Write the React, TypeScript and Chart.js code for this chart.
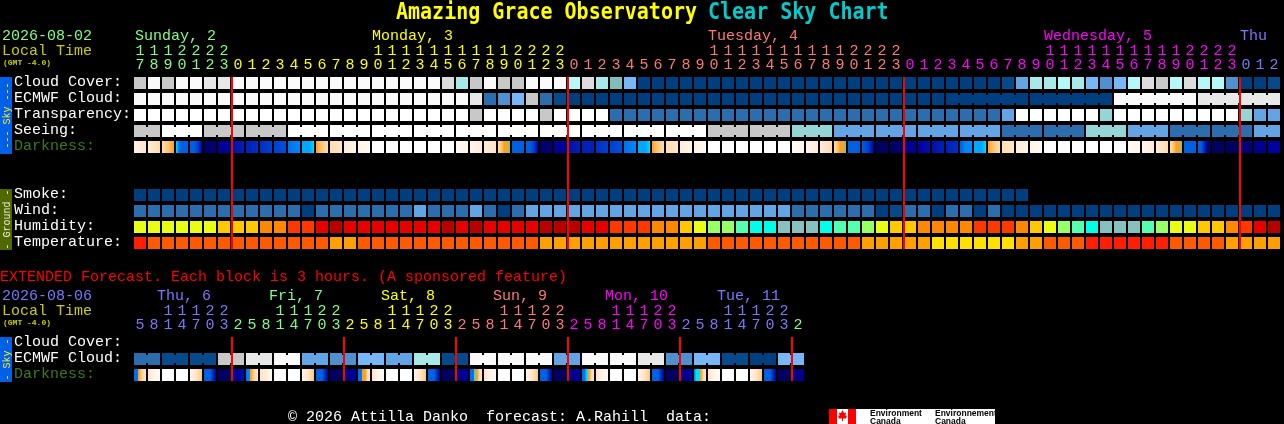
import React, { useEffect, useRef } from "react";
import { Chart, registerables } from "chart.js";

Chart.register(...registerables);

// ---------- values ----------
// Cloud-like rows: each number is a level of cloudColors below.
const cloudCover = [10,13,10,13,13,12,12,13,13,13,13,13,13,13,13,13,13,13,13,13,13,13,11,7,10,13,10,10,13,13,13,6,11,7,9,5,0,0,0,0,0,0,0,0,0,0,0,0,0,0,0,0,0,0,0,0,0,0,0,0,0,0,1,4,7,7,6,7,5,3,5,6,11,10,6,11,6,6,3,0,0,1];
const ecmwfCloud = [13,13,13,13,13,13,13,13,13,13,13,13,13,13,13,13,13,13,13,13,13,13,13,13,12,2,3,5,10,2,1,0,0,0,0,0,0,0,0,0,0,0,0,0,0,0,0,0,0,0,0,0,0,0,0,0,0,0,0,0,0,0,0,0,0,0,0,0,0,0,13,13,13,13,13,13,12,12,12,12,12,12];
const transparency = [14,14,14,14,14,14,14,14,14,14,14,14,14,14,14,14,14,14,14,14,14,14,14,14,10,14,14,14,14,10,14,14,14,14,2,2,2,2,2,2,2,2,2,2,2,2,2,2,2,2,2,2,2,2,2,2,2,2,2,2,2,2,4,14,14,14,14,14,14,8,14,14,14,14,14,14,14,14,14,8,4,4];
const seeing = [10,10,14,14,14,10,10,10,10,10,10,14,14,14,14,14,14,14,14,14,14,14,14,14,14,14,14,14,14,14,14,14,14,14,14,14,14,14,14,14,14,10,10,10,10,10,10,8,8,8,4,4,4,4,4,4,4,4,4,4,4,4,2,2,2,2,2,2,8,8,8,4,4,4,2,2,2,2,2,2,4,4];
const smoke = [0,0,0,0,0,0,0,0,0,0,0,0,0,0,0,0,0,0,0,0,0,0,0,0,0,0,0,0,0,0,0,0,0,0,0,0,0,0,0,0,0,0,0,0,0,0,0,0,0,0,0,0,0,0,0,0,0,0,0,0,0,0,0,0];
const wind = [2,2,2,2,2,2,2,2,2,2,2,2,0,2,2,2,2,2,2,2,4,2,2,2,4,2,0,2,4,4,4,4,4,4,4,4,4,4,4,4,4,4,4,4,4,4,4,2,2,2,2,2,2,0,1,2,2,0,2,2,0,2,0,0,0,0,0,0,0,0,0,0,0,0,0,0,0,0,0,0,0,0];
const humidity = [5,5,5,5,5,5,4,4,4,3,3,2,2,1,0,1,1,1,1,1,1,1,0,1,0,1,1,1,1,0,0,0,1,1,2,2,2,3,3,4,5,6,6,7,8,8,9,9,9,8,7,7,6,5,4,4,3,3,3,3,2,2,2,3,4,5,6,7,8,9,9,9,7,6,5,5,4,4,3,2,1,0];
const temperature = [0,1,1,1,1,1,1,1,1,1,1,1,1,1,2,2,1,1,1,1,1,1,1,1,1,1,1,1,1,2,2,2,2,2,2,2,2,2,2,2,2,1,1,1,1,1,1,1,1,1,1,1,2,2,2,2,2,3,3,3,3,3,3,2,2,1,1,1,0,0,0,0,0,0,1,1,1,1,2,2,2,2];
// Darkness: levels sampled left to right across each block.
const darkness = [[2,4],[3,5],[5,6,7],[9,12,13,13,13],[13,13,15,19],[22,21],[20,19],[18,17],[17,16],[16,15],[15,14],[12,11],[10,10,10,9],[7,6,5],[5,4],[3,2],[2,1],[0],[0],[0],[0],[0],[0],[1,2],[2,3],[3,4],[5,6,7,7,8],[13,13],[13,13,15,19],[22,21],[20,19],[18,17],[17],[16,15],[15,14],[12,11],[10,10,10,9],[7,6,5],[5,4],[3,2],[2,1],[0],[0],[0],[0],[0],[0],[1,2],[2,3],[3,5],[5,6,7,7,8],[13,13],[13,15,19],[22],[22,21],[20],[19,18],[18,17],[17,16],[13,11,11],[10,10,10,9],[7,6,5],[5,4],[3,2],[2,1],[0],[0],[0],[0],[0],[0],[1,2],[2,3],[3,5],[5,6,7,7,8],[13,13],[13,13,16,20,21],[22],[22],[21],[20],[19,19]];
const extEcmwf = [2,2,1,1,1,1,10,10,12,12,13,13,4,4,3,3,5,5,4,4,7,7,1,1,13,13,13,13,13,13,4,4,13,13,13,13,12,12,3,3,5,5,1,1,0,0,5,5];
const extDarkness = [[12,12,7,6,5,4],[4,2,1],[0],[0],[2,3,5,6],[13,13,13,16,20],[22,22],[20,19,18],[12,11,7,6,5,4],[4,3,1],[0],[0],[2,3,5,6],[13,13,13,16,20],[22],[21,20,19],[12,12,7,7,5,4],[4,2,1],[0],[0],[2,3,5,6],[13,13,13,16,20],[22],[21,20,19],[12,12,8,7,5,4],[4,2,1],[0],[0],[2,3,5,6],[13,13,13,16,20],[22],[21,20,19],[12,12,9,7,5,4],[4,2,1],[0],[0],[2,3,5,6],[13,13,13,16,20],[22],[21,20,19],[12,9,9,7,5,4],[4,2,1],[0],[0],[2,3,5,6],[13,13,13,16,20],[22],[21,20,20]];
// Counts of consecutive blocks that are joined together.
const seeingGroups = [2,3,3,3,3,3,3,3,3,3,3,3,3,3,3,3,3,3,3,3,3,3,3,3,3,3,3,2];
const ecmwfGroups = [1,1,1,1,1,1,1,1,1,1,1,1,1,1,1,1,1,1,1,1,1,1,1,1,1,1,1,1,1,1,1,1,1,1,1,1,1,1,1,1,1,1,1,1,1,1,1,1,1,1,1,1,1,1,1,1,1,1,6,6,6,6];
const extGroups = [2,2,2,2,2,2,2,2,2,2,2,2,2,2,2,2,2,2,2,2,2,2,2,2];
// Midnight / extended day boundaries (block index).
const mainMidnights = [7,31,55,79];
const extMidnights = [7,15,23,31,39,47];
// Tick labels
const mainHours = [17,18,19,20,21,22,23,0,1,2,3,4,5,6,7,8,9,10,11,12,13,14,15,16,17,18,19,20,21,22,23,0,1,2,3,4,5,6,7,8,9,10,11,12,13,14,15,16,17,18,19,20,21,22,23,0,1,2,3,4,5,6,7,8,9,10,11,12,13,14,15,16,17,18,19,20,21,22,23,0,1,2];
const extHours = [5,8,11,14,17,20,23,2,5,8,11,14,17,20,23,2,5,8,11,14,17,20,23,2,5,8,11,14,17,20,23,2,5,8,11,14,17,20,23,2,5,8,11,14,17,20,23,2];
const mainDayLabels = ["Sunday, 2","Monday, 3","Tuesday, 4","Wednesday, 5","Thu"];
const mainDayCells = [0.07,17,41,65,79];
const extDayLabels = ["Thu, 6","Fri, 7","Sat, 8","Sun, 9","Mon, 10","Tue, 11"];
const extDayCells = [1.64,9.64,17.64,25.64,33.64,41.64];

// ---------- palettes and layout ----------
const cloudColors = ["#003f7f","#074a8b","#2b6dad","#4f90d0","#62a4e4","#77b7f7","#b4f8f8","#a8e8e8","#95d5d5","#80bcbc","#c8c8c8","#dcdcdc","#e8e8e8","#fafafa","#ffffff"];
const humidityColors = ["#b80000","#e60000","#ff3800","#ff8800","#ffc800","#e8ff14","#99ff66","#55ffb0","#00ffe8","#88c0c0"];
const temperatureColors = ["#ff1e00","#ff5a00","#ffa000","#ffe000"];
const darkColors = ["#ffffff","#fffaf4","#fff4e8","#ffecd8","#ffe4c8","#ffdcb0","#ffc878","#ffa020","#60d0a0","#00e0ff","#00a8ff","#0088f8","#0070f0","#0060e0","#0050d8","#0040d0","#0030c0","#0020b8","#0010a8","#0000a0","#000090","#000078","#000060"];
const dayColors = ["#80ff80","#ffff00","#ff7878","#ff00ff","#7878ff"];
const extDayColors = ["#7878ff","#80ff80","#ffff00","#ff7878","#ff00ff","#7878ff","#80ff80"];
const MONO = '"Liberation Mono", monospace';
const W = 1284, H = 424;
const HALF = 6 / 16;   // half block height, in rows
const NECK = 4 / 16;   // half height of the joints between blocks
const ROW = { cloud: 0, ecmwf: 1, transp: 2, seeing: 3, dark: 4, smoke: 7, wind: 8, humid: 9, temp: 10, xCloud: 16.25, xEcmwf: 17.25, xDark: 18.25 };

const cellsFor = (vals: number[], row: number, colors: string[]) => ({
  data: vals.map((_, i) => ({ x: i, y: [row - HALF, row + HALF] })),
  backgroundColor: vals.map((v) => colors[v]),
  barThickness: 12, borderWidth: 0, borderSkipped: false, inflateAmount: 0,
});

const joints = (vals: number[], groups: number[], row: number, colors: string[]) => {
  const data: any[] = [], bg: string[] = [];
  let at = 0;
  groups.forEach((n) => {
    for (let k = 0; k < n - 1; k++) {
      data.push({ x: at + k + 0.5, y: [row - NECK, row + NECK] });
      bg.push(colors[vals[at + k]]);
    }
    at += n;
  });
  return { data, backgroundColor: bg, barThickness: 2, borderWidth: 0, borderSkipped: false, inflateAmount: 0 };
};

const gradientCells = (stops: number[][], row: number) => ({
  data: stops.map((_, i) => ({ x: i, y: [row - HALF, row + HALF] })),
  backgroundColor: (c: any) => {
    if (c.dataIndex == null) return "#000";
    const lv = stops[c.dataIndex];
    const cx = c.chart.scales.x ? c.chart.scales.x.getPixelForValue(c.dataIndex) : NaN;
    if (lv.length === 1 || !Number.isFinite(cx)) return darkColors[lv[0]];
    const g = c.chart.ctx.createLinearGradient(cx - 6, 0, cx + 6, 0);
    lv.forEach((l: number, k: number) => {
      const p = k / (lv.length - 1);
      g.addColorStop(p, darkColors[l]);
      const next = lv[k + 1];
      if (next !== undefined && (l <= 8) !== (next <= 8)) {
        const mid = (k + 0.5) / (lv.length - 1);
        g.addColorStop(mid, darkColors[l]);
        g.addColorStop(mid, darkColors[next]);
      }
    });
    return g;
  },
  barThickness: 12, borderWidth: 0, borderSkipped: false, inflateAmount: 0,
});

const redLines = (marks: number[], top: number, bottom: number) => ({
  data: marks.map((m) => ({ x: m - 3 / 7, y: [top - HALF, bottom + HALF] })),
  backgroundColor: "#ff0000",
  barThickness: 2, borderWidth: 0, borderSkipped: false, inflateAmount: 0,
});

const put = (ctx: any, s: string, x: number, y: number, color: string, font = `15px ${MONO}`, align = "left") => {
  ctx.font = font; ctx.fillStyle = color; ctx.textAlign = align; ctx.textBaseline = "alphabetic";
  ctx.fillText(s, x, y);
};

const putTitle = (ctx: any, s: string, x: number, color: string) => {
  ctx.save();
  ctx.translate(x, 19);
  ctx.scale(1, 1.12);
  put(ctx, s, 0, 0, color, `bold 20px "DejaVu Sans Mono", monospace`);
  ctx.restore();
};

const sideBar = (ctx: any, top: number, bottom: number, bg: string, fg: string, s: string) => {
  ctx.fillStyle = bg; ctx.fillRect(0, top, 12, bottom - top);
  ctx.save();
  ctx.translate(9.5, (top + bottom) / 2);
  ctx.rotate(-Math.PI / 2);
  put(ctx, s, 0, 0, fg, `10px ${MONO}`, "center");
  ctx.restore();
};

const hourRows = (ctx: any, xs: any, hours: number[], colors: string[], tensY: number, unitsY: number) => {
  let day = 0;
  hours.forEach((h, i) => {
    if (i > 0 && h < hours[i - 1]) day++;
    const cx = xs.getPixelForValue(i), col = colors[day];
    if (h >= 10) put(ctx, String(Math.floor(h / 10)), cx, tensY, col, undefined, "center");
    put(ctx, String(h % 10), cx, unitsY, col, undefined, "center");
  });
};

const artPlugin = {
  id: "art",
  beforeDraw(chart: any) {
    const ctx = chart.ctx;
    ctx.save(); ctx.fillStyle = "#000"; ctx.fillRect(0, 0, W, H); ctx.restore();
  },
  afterDraw(chart: any) {
    const ctx = chart.ctx, xs = chart.scales.x;
    ctx.save();
    // Title
    putTitle(ctx, "Amazing Grace Observatory", 396, "#ffff00");
    putTitle(ctx, "Clear Sky Chart", 708, "#00cccc");
    // Left headers
    put(ctx, "2026-08-02", 2, 40, dayColors[0]);
    put(ctx, "Local Time", 2, 55, "#cccc00");
    put(ctx, "(GMT -4.0)", 3, 65, "#cccc00", `bold 8px ${MONO}`);
    mainDayLabels.forEach((s, i) => put(ctx, s, xs.getPixelForValue(mainDayCells[i]) - 6, 40, dayColors[i]));
    hourRows(ctx, xs, mainHours, dayColors, 55, 69);
    // Row labels
    ["Cloud Cover:", "ECMWF Cloud:", "Transparency:", "Seeing:"].forEach((s, i) => put(ctx, s, 14, 86 + 16 * i, "#ffffff"));
    put(ctx, "Darkness:", 14, 150, "#3a7a1e");
    ["Smoke:", "Wind:", "Humidity:", "Temperature:"].forEach((s, i) => put(ctx, s, 14, 198 + 16 * i, "#ffffff"));
    sideBar(ctx, 77, 154, "#0060e8", "#ffee22", "--- Sky ---");
    sideBar(ctx, 189, 250, "#506800", "#eeeedd", "- Ground -");
    // Extended
    put(ctx, "EXTENDED Forecast. Each block is 3 hours. (A sponsored feature)", 0, 281, "#ff0000");
    put(ctx, "2026-08-06", 2, 300, "#7878ff");
    put(ctx, "Local Time", 2, 315, "#cccc00");
    put(ctx, "(GMT -4.0)", 3, 325, "#cccc00", `bold 8px ${MONO}`);
    extDayLabels.forEach((s, i) => put(ctx, s, xs.getPixelForValue(extDayCells[i]) - 6, 300, extDayColors[i]));
    hourRows(ctx, xs, extHours, extDayColors, 315, 329);
    put(ctx, "Cloud Cover:", 14, 346, "#ffffff");
    put(ctx, "ECMWF Cloud:", 14, 362, "#ffffff");
    put(ctx, "Darkness:", 14, 378, "#3a7a1e");
    sideBar(ctx, 337, 382, "#0060e8", "#ffee22", "- Sky -");
    // Footer
    put(ctx, "\u00a9 2026 Attilla Danko  forecast: A.Rahill  data:", 288, 421, "#ffffff");
    // Environment Canada signature
    ctx.fillStyle = "#ffffff"; ctx.fillRect(829, 409, 166, 15);
    ctx.fillStyle = "#ff0000"; ctx.fillRect(829, 409, 8, 15); ctx.fillRect(848, 409, 8, 15);
    ctx.beginPath();
    [[842.5,410],[844,413],[846,412.5],[845.5,416],[847,415.5],[846,418.5],[843,418.5],[843,421],[842,421],[842,418.5],[839,418.5],[838,415.5],[839.5,416],[839,412.5],[841,413]].forEach(([x, y], i) => i ? ctx.lineTo(x, y) : ctx.moveTo(x, y));
    ctx.closePath(); ctx.fill();
    const small = `bold 8.5px "Liberation Sans", sans-serif`;
    put(ctx, "Environment", 870, 416, "#000000", small);
    put(ctx, "Canada", 870, 423.5, "#000000", small);
    put(ctx, "Environnement", 935, 416, "#000000", small);
    put(ctx, "Canada", 935, 423.5, "#000000", small);
    ctx.restore();
  },
};

export default function App() {
  const ref = useRef<HTMLCanvasElement | null>(null);
  useEffect(() => {
    document.body.style.margin = "0";
    document.body.style.background = "#000";
    document.body.style.overflow = "hidden";
    const chart = new Chart(ref.current as HTMLCanvasElement, {
      type: "bar",
      data: {
        datasets: [
          redLines(mainMidnights, ROW.cloud, ROW.temp),
          redLines(extMidnights, ROW.xCloud, ROW.xDark),
          cellsFor(cloudCover, ROW.cloud, cloudColors),
          cellsFor(ecmwfCloud, ROW.ecmwf, cloudColors),
          joints(ecmwfCloud, ecmwfGroups, ROW.ecmwf, cloudColors),
          cellsFor(transparency, ROW.transp, cloudColors),
          cellsFor(seeing, ROW.seeing, cloudColors),
          joints(seeing, seeingGroups, ROW.seeing, cloudColors),
          gradientCells(darkness, ROW.dark),
          cellsFor(smoke, ROW.smoke, cloudColors),
          cellsFor(wind, ROW.wind, cloudColors),
          cellsFor(humidity, ROW.humid, humidityColors),
          cellsFor(temperature, ROW.temp, temperatureColors),
          cellsFor(extEcmwf, ROW.xEcmwf, cloudColors),
          joints(extEcmwf, extGroups, ROW.xEcmwf, cloudColors),
          gradientCells(extDarkness, ROW.xDark),
        ] as any,
      },
      options: {
        animation: false,
        responsive: false,
        devicePixelRatio: 1,
        events: [],
        layout: { padding: 0 },
        datasets: { bar: { grouped: false } },
        plugins: { legend: { display: false }, title: { display: false }, tooltip: { enabled: false } },
        scales: {
          x: { type: "linear", display: false, offset: false, min: -10, max: (W - 140) / 14 },
          y: { type: "linear", display: false, reverse: true, min: -83 / 16, max: (H - 83) / 16 },
        },
      } as any,
      plugins: [artPlugin],
    });
    return () => chart.destroy();
  }, []);
  return <canvas ref={ref} width={W} height={H} style={{ display: "block", width: W, height: H }} />;
}
